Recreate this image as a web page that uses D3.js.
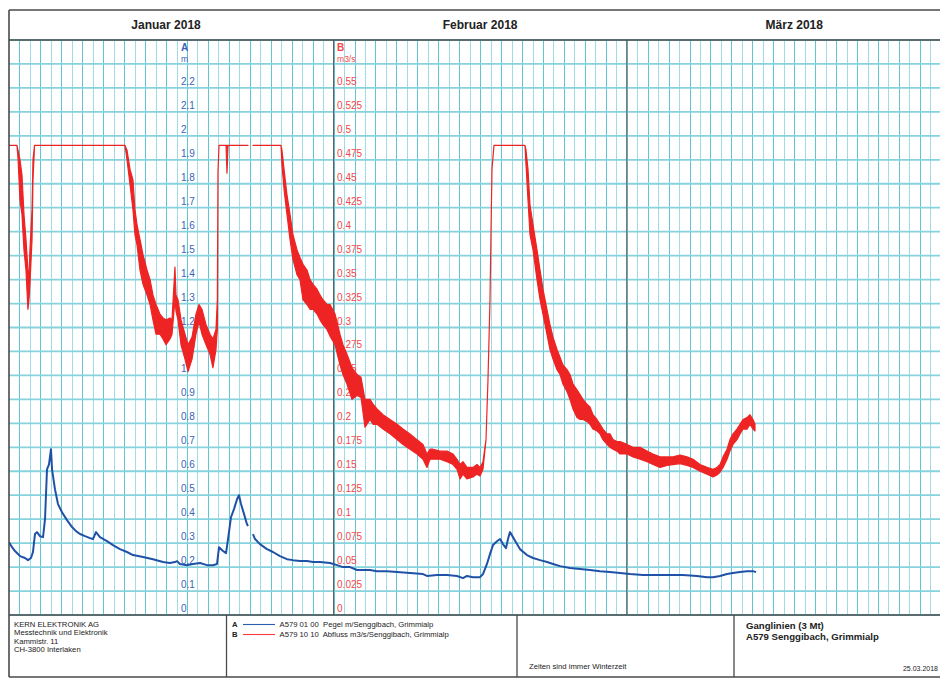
<!DOCTYPE html>
<html><head><meta charset="utf-8">
<script src="https://cdn.jsdelivr.net/npm/d3@7"></script>
<style>body{margin:0;background:#fff}svg{display:block;font-family:"Liberation Sans",Arial,sans-serif}</style>
</head><body><svg id="c" width="940" height="682"></svg>
<script>
// ---------------- DATA ----------------
const months = ["Januar 2018", "Februar 2018", "März 2018"];
const aTickLabels = ["0","0.1","0.2","0.3","0.4","0.5","0.6","0.7","0.8","0.9","1","1.1","1.2","1.3","1.4","1.5","1.6","1.7","1.8","1.9","2","2.1","2.2"];
const bTickLabels = ["0","0.025","0.05","0.075","0.1","0.125","0.15","0.175","0.2","0.225","0.25","0.275","0.3","0.325","0.35","0.375","0.4","0.425","0.45","0.475","0.5","0.525","0.55"];
const seriesNames = ["A579 01 00  Pegel m/Senggibach, Grimmialp", "A579 10 10  Abfluss m3/s/Senggibach, Grimmialp"];

// A: Pegel (m), time in days since 01.01.2018 00:00
const pegelDays = [0,0.29,0.57,1.05,1.53,1.81,2.10,2.29,2.48,2.67,2.96,3.25,3.44,3.63,3.82,4.01,4.11,4.39,4.68,5.06,5.54,6.02,6.40,6.78,7.26,7.74,8.02,8.31,8.69,9.36,9.93,10.6,11.27,11.84,12.80,13.75,14.71,15.38,15.85,16.05,16.33,17.0,17.57,18.24,18.91,19.48,19.87,20.06,20.44,20.73,20.92,21.2,21.49,21.78,21.97,22.16,22.45,22.73,22.83,23.0,23.3,23.5,23.97,24.64,25.21,25.88,26.55,27.12,27.79,28.46,29.04,29.7,30.66,31.33,31.9,32.57,33.24,33.81,34.48,35.15,36.1,37.06,38.3,39.54,39.92,40.88,41.83,42.79,43.36,43.74,44.32,44.99,45.27,45.65,45.94,46.23,46.61,46.9,47.18,47.47,47.66,47.85,48.14,48.52,48.8,49.47,50.05,50.72,51.39,51.96,52.63,53.58,54.54,55.49,56.45,57.4,58.36,59.31,60.55,61.89,63.13,64.37,65.71,66.67,67.24,67.91,68.58,69.15,69.82,70.49,71.06,71.35];
const pegelM = [0.304,0.283,0.267,0.246,0.238,0.229,0.238,0.263,0.338,0.346,0.329,0.325,0.4,0.608,0.629,0.692,0.608,0.525,0.463,0.429,0.396,0.367,0.35,0.338,0.329,0.321,0.317,0.346,0.325,0.308,0.292,0.275,0.263,0.25,0.242,0.233,0.221,0.217,0.221,0.225,0.213,0.208,0.213,0.217,0.208,0.208,0.213,0.283,0.267,0.258,0.317,0.408,0.442,0.483,0.5,0.463,0.421,0.379,0.371,null,0.338,0.317,0.296,0.275,0.263,0.246,0.233,0.229,0.225,0.225,0.221,0.221,0.217,0.208,0.2,0.2,0.188,0.188,0.188,0.183,0.183,0.179,0.175,0.171,0.163,0.167,0.167,0.163,0.154,0.163,0.158,0.158,0.171,0.213,0.254,0.292,0.308,0.317,0.296,0.279,0.317,0.346,0.325,0.296,0.275,0.25,0.238,0.229,0.221,0.213,0.204,0.196,0.192,0.188,0.183,0.179,0.175,0.171,0.167,0.167,0.167,0.167,0.163,0.158,0.158,0.163,0.171,0.175,0.179,0.183,0.183,0.179];

// B: Abfluss (m3/s), noisy record given as low / high envelope
const abflussDays = [0,0.76,0.86,1.05,1.24,1.43,1.62,1.81,1.91,2.0,2.2,2.29,2.44,11.08,11.27,11.56,11.84,12.03,12.23,12.51,12.8,13.18,13.47,13.75,14.04,14.42,14.71,15.0,15.38,15.57,15.85,15.95,16.14,16.43,16.81,17.1,17.48,17.86,18.15,18.43,18.82,19.2,19.48,19.77,19.9,19.96,20.06,20.73,20.82,20.92,22.83,23.0,23.3,25.98,26.07,26.27,26.55,26.84,27.12,27.51,27.79,28.08,28.46,28.75,29.04,29.42,29.7,29.99,30.37,30.66,31.14,31.61,31.9,32.28,32.76,33.24,33.62,34.0,34.19,34.48,34.77,35.15,35.72,36.39,37.06,37.63,38.3,38.97,39.54,39.92,40.21,40.5,41.17,41.83,42.41,42.79,43.08,43.36,43.74,44.32,44.7,44.99,45.27,45.56,45.75,45.94,46.04,46.13,46.32,49.28,49.38,49.57,49.76,50.05,50.43,50.72,51.0,51.38,51.67,51.96,52.34,52.63,52.91,53.3,53.58,53.87,54.25,54.54,54.82,55.2,55.49,55.78,56.16,56.45,56.73,57.12,57.4,57.69,58.07,58.36,59.03,59.6,60.27,60.94,61.51,62.18,62.85,63.42,64.09,64.76,65.33,66.0,66.67,67.24,67.62,67.91,68.2,68.58,68.86,69.15,69.53,69.82,70.1,70.49,70.77,71.06,71.25];
const abflussLo = [0.49,0.49,0.477,0.433,0.418,0.381,0.36,0.319,0.329,0.345,0.392,0.454,0.49,0.49,0.475,0.449,0.423,0.397,0.386,0.36,0.345,0.334,0.324,0.308,0.293,0.293,0.288,0.282,0.288,0.293,0.329,0.317,0.308,0.282,0.267,0.254,0.267,0.293,0.306,0.293,0.282,0.272,0.258,0.277,0.298,0.4625,0.49,0.49,0.461,0.49,0.49,null,0.49,0.49,0.47,0.444,0.418,0.392,0.371,0.355,0.35,0.329,0.324,0.319,0.319,0.314,0.308,0.303,0.298,0.291,0.282,0.261,0.251,0.241,0.225,0.229,0.227,0.196,0.199,0.204,0.199,0.199,0.194,0.189,0.183,0.178,0.173,0.168,0.1625,0.154,0.1625,0.1625,0.1625,0.16,0.157,0.152,0.142,0.147,0.142,0.144,0.147,0.145,0.152,0.183,0.246,0.329,0.402,0.465,0.49,0.49,0.47,0.433,0.397,0.381,0.35,0.329,0.314,0.293,0.277,0.267,0.256,0.251,0.241,0.233,0.225,0.215,0.206,0.204,0.204,0.202,0.199,0.194,0.192,0.189,0.183,0.178,0.175,0.173,0.171,0.168,0.168,0.165,0.1625,0.16,0.157,0.154,0.156,0.157,0.158,0.156,0.154,0.15,0.147,0.144,0.146,0.149,0.154,0.1625,0.171,0.178,0.183,0.189,0.194,0.194,0.199,0.194,0.192];
const abflussHi = [0.49,0.49,0.485,0.475,0.459,0.418,0.392,0.36,0.35,0.381,0.423,0.475,0.49,0.49,0.485,0.465,0.454,0.423,0.407,0.392,0.376,0.36,0.35,0.334,0.324,0.314,0.31,0.308,0.31,0.308,0.363,0.334,0.329,0.308,0.293,0.282,0.29,0.314,0.324,0.319,0.303,0.293,0.288,0.298,0.329,0.4625,0.49,0.49,0.49,0.49,0.49,null,0.49,0.49,0.485,0.465,0.4385,0.418,0.397,0.381,0.373,0.366,0.36,0.35,0.345,0.34,0.334,0.329,0.324,0.324,0.314,0.293,0.282,0.272,0.258,0.251,0.248,0.225,0.225,0.225,0.22,0.215,0.209,0.204,0.199,0.194,0.189,0.183,0.178,0.168,0.173,0.173,0.171,0.171,0.168,0.1625,0.157,0.16,0.154,0.154,0.157,0.154,0.16,0.183,0.246,0.329,0.402,0.465,0.49,0.49,0.485,0.465,0.428,0.407,0.381,0.36,0.34,0.319,0.303,0.29,0.277,0.269,0.261,0.256,0.251,0.241,0.235,0.23,0.225,0.22,0.217,0.209,0.204,0.199,0.194,0.189,0.189,0.183,0.181,0.181,0.178,0.175,0.175,0.171,0.168,0.165,0.165,0.165,0.167,0.165,0.1625,0.157,0.154,0.152,0.154,0.157,0.165,0.173,0.183,0.189,0.194,0.199,0.204,0.206,0.209,0.204,0.199];

// ---------------- LAYOUT ----------------
const W = 940, H = 682;
const LEFT = 9, TOP = 40, BOT = 615, DAYW = 10.47;
const T0 = Date.UTC(2018, 0, 1);
const toDate = d => new Date(T0 + d * 864e5);

const svg = d3.select("#c");
svg.append("rect").attr("width", W).attr("height", H).attr("fill", "#fff");

const x = d3.scaleUtc().domain([toDate(0), toDate(90)]).range([LEFT, LEFT + 90 * DAYW]);
const yA = d3.scaleLinear().domain([0, 2.4]).range([BOT, TOP]);
const yB = d3.scaleLinear().domain([0, 0.6]).range([BOT, TOP]);

svg.append("defs").append("clipPath").attr("id", "plot")
  .append("rect").attr("x", LEFT).attr("y", TOP).attr("width", W - LEFT).attr("height", BOT - TOP);

const grid = svg.append("g");
// vertical day lines
const dayTicks = d3.utcDay.range(toDate(1), toDate(90));
grid.selectAll("line.v").data(dayTicks).join("line")
  .attr("x1", d => Math.round(x(d)) + 0.5).attr("x2", d => Math.round(x(d)) + 0.5)
  .attr("y1", TOP).attr("y2", BOT)
  .attr("stroke", (d, i) => i % 2 ? "#9fdce6" : "#5fc6d4").attr("stroke-width", 1);
// horizontal lines (every 0.1 m)
const hTicks = yA.ticks(24);
grid.selectAll("line.h").data(hTicks).join("line")
  .attr("x1", LEFT).attr("x2", W)
  .attr("y1", d => yA(d)).attr("y2", d => yA(d))
  .attr("stroke", "#86d2dd").attr("stroke-width", 1.8);

// month dividers
const monthStarts = [toDate(31), toDate(59)];
svg.selectAll("line.m").data(monthStarts).join("line")
  .attr("x1", d => x(d)).attr("x2", d => x(d)).attr("y1", TOP).attr("y2", BOT)
  .attr("stroke", "#5e5e5e").attr("stroke-width", 1.1);

// axis labels
const axA = svg.append("g").attr("fill", "#3b62b5").attr("font-size", 10);
const axAx = 181;
axA.selectAll("text").data(aTickLabels).join("text")
  .attr("x", axAx).attr("y", d => yA(+d) - 3).text(d => d);
axA.append("text").attr("x", axAx).attr("y", 51).attr("font-weight", "bold").text("A");
axA.append("text").attr("x", axAx).attr("y", 62).attr("font-size", 8.5).text("m");

const axB = svg.append("g").attr("fill", "#f2474a").attr("font-size", 10);
const axBx = x(toDate(31)) + 3.5;
axB.selectAll("text").data(bTickLabels).join("text")
  .attr("x", axBx).attr("y", d => yB(+d) - 3).text(d => d);
axB.append("text").attr("x", axBx).attr("y", 51).attr("font-weight", "bold").text("B");
axB.append("text").attr("x", axBx).attr("y", 62).attr("font-size", 8.5).text("m3/s");

// series
const plot = svg.append("g").attr("clip-path", "url(#plot)");
const redData = abflussDays.map((d, i) => ({t: toDate(d), lo: abflussLo[i], hi: abflussHi[i]}));
const area = d3.area().defined(d => d.lo != null)
  .x(d => x(d.t)).y0(d => yB(d.lo)).y1(d => yB(d.hi));
plot.append("path").datum(redData).attr("d", area)
  .attr("fill", "#ee2424").attr("stroke", "#ee2424").attr("stroke-width", 1.2).attr("stroke-linejoin", "round");

const blueData = pegelDays.map((d, i) => ({t: toDate(d), v: pegelM[i]}));
const line = d3.line().defined(d => d.v != null).x(d => x(d.t)).y(d => yA(d.v));
plot.append("path").datum(blueData).attr("d", line)
  .attr("fill", "none").attr("stroke", "#1f52a6").attr("stroke-width", 2).attr("stroke-linejoin", "round");

// frame
const frame = svg.append("g").attr("stroke", "#4a4a4a").attr("fill", "none");
frame.append("line").attr("x1", LEFT).attr("x2", W).attr("y1", 10).attr("y2", 10).attr("stroke-width", 1.6);
frame.append("line").attr("x1", LEFT).attr("x2", W).attr("y1", TOP).attr("y2", TOP).attr("stroke-width", 1.4);
frame.append("line").attr("x1", LEFT).attr("x2", W).attr("y1", BOT).attr("y2", BOT).attr("stroke-width", 1.4);
frame.append("line").attr("x1", LEFT).attr("x2", W).attr("y1", 677).attr("y2", 677).attr("stroke-width", 1.6);
frame.append("line").attr("x1", LEFT).attr("x2", LEFT).attr("y1", 10).attr("y2", 677).attr("stroke-width", 1.6);
[226.5, 517, 734].forEach(px => frame.append("line").attr("x1", px).attr("x2", px).attr("y1", BOT).attr("y2", 677).attr("stroke-width", 1.3));

// month header labels
const monthLabelAt = [toDate(15), toDate(45), toDate(75)];
svg.append("g").selectAll("text").data(months).join("text")
  .attr("x", (d, i) => x(monthLabelAt[i])).attr("y", 29)
  .attr("text-anchor", "middle").attr("font-size", 12).attr("font-weight", "bold").attr("fill", "#222")
  .text(d => d);

// footer
const ft = svg.append("g").attr("font-size", 7.7).attr("fill", "#222");
["KERN ELEKTRONIK AG", "Messtechnik und Elektronik", "Kammistr. 11", "CH-3800 Interlaken"].forEach((s, i) =>
  ft.append("text").attr("x", 14).attr("y", 627 + i * 8.4).text(s));

const legColors = ["#2a5db0", "#ff3b3b"];
["A", "B"].forEach((k, i) => {
  const yy = 627 + i * 10;
  ft.append("text").attr("x", 232).attr("y", yy).attr("font-weight", "bold").text(k);
  ft.append("line").attr("x1", 243).attr("x2", 275).attr("y1", yy - 2.5).attr("y2", yy - 2.5)
    .attr("stroke", legColors[i]).attr("stroke-width", 1.1);
  ft.append("text").attr("x", 279.5).attr("y", yy).style("white-space", "pre").text(seriesNames[i]);
});
ft.append("text").attr("x", 529).attr("y", 669).text("Zeiten sind immer Winterzeit");
ft.append("text").attr("x", 746).attr("y", 628.5).attr("font-size", 9.6).attr("font-weight", "bold").text("Ganglinien (3 Mt)");
ft.append("text").attr("x", 746).attr("y", 639.5).attr("font-size", 9.6).attr("font-weight", "bold").text("A579 Senggibach, Grimmialp");
ft.append("text").attr("x", 938).attr("y", 671).attr("text-anchor", "end").attr("font-size", 7).text("25.03.2018");
</script></body></html>
